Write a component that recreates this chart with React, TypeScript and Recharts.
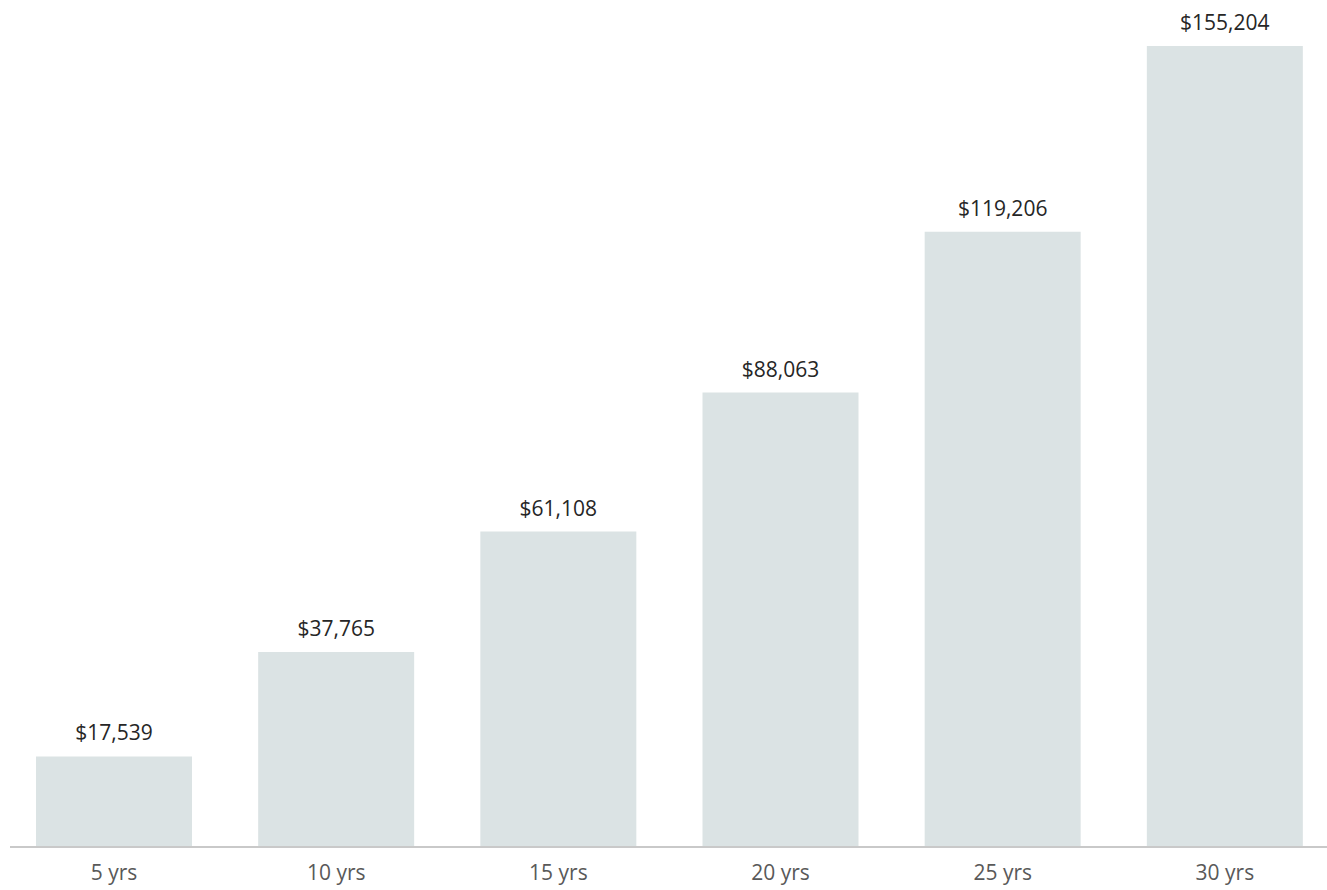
import { BarChart, Bar, XAxis, YAxis, LabelList } from "recharts";

const periods = ["5 yrs", "10 yrs", "15 yrs", "20 yrs", "25 yrs", "30 yrs"];
const balances = [17539, 37765, 61108, 88063, 119206, 155204];

const chartData = periods.map((p, i) => ({ period: p, value: balances[i] }));

const fmt = (v: number) => "$" + v.toLocaleString("en-US");

export default function App() {
  return (
    <div
      style={{
        position: "absolute",
        left: 0,
        top: 0,
        width: 1327,
        height: 890,
        overflow: "hidden",
        background: "#ffffff",
        fontFamily: "'Open Sans', sans-serif",
      }}
    >
      <BarChart
        width={1327}
        height={890}
        data={chartData}
        margin={{ top: 46, right: 0, bottom: 0, left: 10 }}
      >
        <XAxis
          dataKey="period"
          height={43}
          padding={{ left: -7, right: -9 }}
          axisLine={{ stroke: "#c9c9c9", strokeWidth: 2 }}
          tickLine={false}
          tickMargin={12}
          tick={{ fontSize: 21, fill: "#595959", fontFamily: "'Open Sans', sans-serif" }}
        />
        <YAxis hide domain={[0, "dataMax"]} />
        <Bar dataKey="value" fill="#dbe3e4" barSize={156} isAnimationActive={false}>
          <LabelList
            dataKey="value"
            position="top"
            offset={16}
            formatter={(v: any) => fmt(Number(v))}
            style={{ fontSize: 21, fill: "#262626", fontFamily: "'Open Sans', sans-serif" }}
          />
        </Bar>
      </BarChart>
    </div>
  );
}
